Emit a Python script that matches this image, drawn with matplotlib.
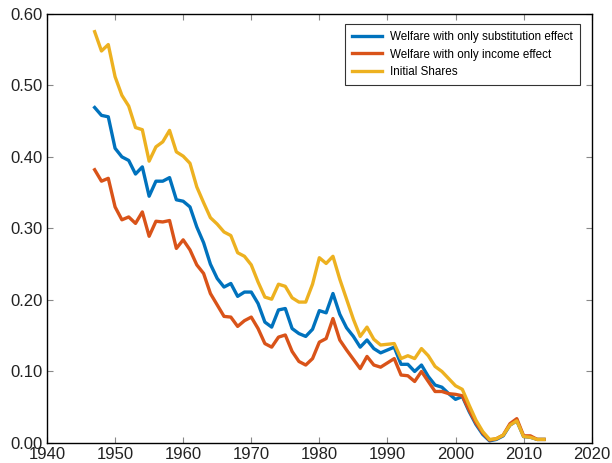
import matplotlib.pyplot as plt
import numpy as np

plt.rcParams['font.family'] = ['Liberation Sans', 'DejaVu Sans']

years = np.arange(1947, 2014)

# Welfare with only substitution effect
subst = [0.469, 0.458, 0.456, 0.412, 0.400, 0.395, 0.376, 0.386, 0.345, 0.366,
         0.366, 0.371, 0.340, 0.338, 0.330, 0.302, 0.280, 0.250, 0.230, 0.218,
         0.223, 0.205, 0.211, 0.211, 0.195, 0.169, 0.162, 0.186, 0.188, 0.160,
         0.153, 0.149, 0.159, 0.185, 0.182, 0.209, 0.180, 0.161, 0.149, 0.134,
         0.144, 0.132, 0.126, 0.130, 0.134, 0.110, 0.110, 0.100, 0.109, 0.093,
         0.081, 0.078, 0.069, 0.061, 0.065, 0.044, 0.026, 0.012, 0.003, 0.005,
         0.010, 0.025, 0.031, 0.009, 0.008, 0.005, 0.005]

# Welfare with only income effect
income = [0.382, 0.366, 0.370, 0.330, 0.312, 0.316, 0.307, 0.323, 0.289, 0.310,
          0.309, 0.311, 0.272, 0.284, 0.270, 0.249, 0.237, 0.209, 0.193, 0.177,
          0.176, 0.163, 0.171, 0.176, 0.160, 0.139, 0.134, 0.148, 0.151, 0.128,
          0.114, 0.109, 0.118, 0.141, 0.146, 0.174, 0.144, 0.130, 0.117, 0.104,
          0.121, 0.109, 0.106, 0.112, 0.118, 0.095, 0.094, 0.086, 0.100, 0.086,
          0.072, 0.072, 0.069, 0.068, 0.066, 0.046, 0.028, 0.014, 0.004, 0.006,
          0.011, 0.027, 0.034, 0.010, 0.010, 0.005, 0.005]

# Initial shares
initial = [0.575, 0.548, 0.557, 0.512, 0.486, 0.471, 0.441, 0.438, 0.394, 0.414,
           0.421, 0.437, 0.407, 0.401, 0.391, 0.358, 0.336, 0.315, 0.306, 0.295,
           0.290, 0.266, 0.261, 0.249, 0.225, 0.204, 0.201, 0.222, 0.219, 0.203,
           0.197, 0.197, 0.222, 0.259, 0.251, 0.261, 0.229, 0.201, 0.173, 0.149,
           0.162, 0.145, 0.137, 0.138, 0.139, 0.118, 0.122, 0.118, 0.132, 0.122,
           0.107, 0.100, 0.090, 0.080, 0.075, 0.053, 0.032, 0.016, 0.005, 0.006,
           0.011, 0.025, 0.031, 0.009, 0.008, 0.005, 0.005]

fig = plt.figure(figsize=(6.12, 4.63), dpi=100)
ax = fig.add_axes([0.0768, 0.0432, 0.890, 0.927])

ax.plot(years, subst, color='#0072BD', lw=2.4, label='Welfare with only substitution effect')
ax.plot(years, income, color='#D95319', lw=2.4, label='Welfare with only income effect')
ax.plot(years, initial, color='#EDB120', lw=2.4, label='Initial Shares')

ax.set_xlim(1940, 2020)
ax.set_ylim(0, 0.6)
ax.set_xticks(np.arange(1940, 2021, 10))
ax.set_yticks(np.arange(0, 0.61, 0.1))
ax.set_yticklabels(['%.2f' % v for v in np.arange(0, 0.61, 0.1)])
ax.tick_params(direction='in', length=4, width=0.8, color='#888888',
               top=True, right=True, labelsize=12, labelcolor='#222222', pad=3)
for s in ax.spines.values():
    s.set_linewidth(1.0)
    s.set_color('black')

leg = ax.legend(loc='upper right', bbox_to_anchor=(0.985, 0.985), fontsize=8.4,
                frameon=True, fancybox=False, handlelength=2.6, borderpad=0.6,
                labelspacing=0.5, handletextpad=0.7, borderaxespad=0.3)
leg.get_frame().set_edgecolor('black')
leg.get_frame().set_linewidth(0.8)

fig.savefig('out.png', dpi=100)
